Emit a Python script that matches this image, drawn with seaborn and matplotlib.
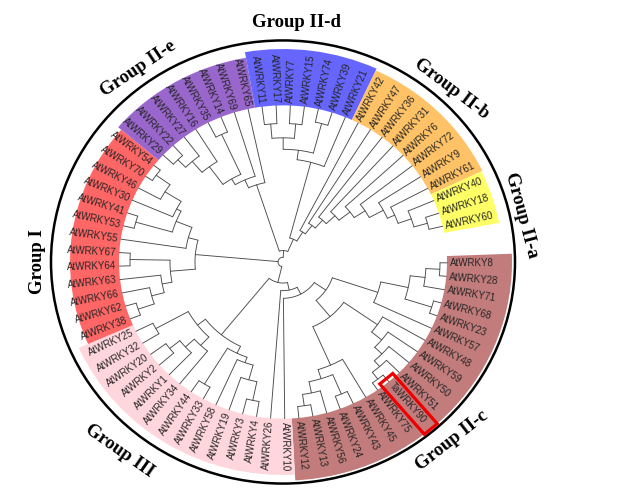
import re
import numpy as np
import pandas as pd
import matplotlib
matplotlib.use("Agg")
import matplotlib.pyplot as plt
from matplotlib.patches import Wedge, Circle, Polygon
import seaborn as sns

# ---- data ---------------------------------------------------------------
# clades in clockwise leaf order; internal labels = node radius (tips sit at R_TIP)
C_UP = "((((AtWRKY8,AtWRKY28)157,AtWRKY71)143,(AtWRKY68,AtWRKY23)156)128,AtWRKY57)100"
C_MID = "(AtWRKY48,(AtWRKY59,(AtWRKY50,(AtWRKY51,(TaWRKY90,AtWRKY75)155)146)138)128)115"
C_LOW = "(AtWRKY45,((AtWRKY43,AtWRKY24)150,(AtWRKY56,(AtWRKY13,AtWRKY12)152)140)128)118"
GIII_A = "((((AtWRKY4,AtWRKY3)148,AtWRKY19)128,AtWRKY58)112,(AtWRKY33,AtWRKY44)150)106"
GIII_B = "((AtWRKY34,(AtWRKY1,(AtWRKY2,AtWRKY20)145)132)120,(AtWRKY32,AtWRKY25)145)108"
GI_LOW = "((((AtWRKY38,AtWRKY62)153,AtWRKY66)136,AtWRKY63)123,(AtWRKY64,AtWRKY67)153)113"
GI_UP = "(AtWRKY55,((AtWRKY53,AtWRKY41)153,(AtWRKY30,(AtWRKY46,(AtWRKY70,AtWRKY54)156)139)120)115)98"
IIE = "((((((AtWRKY29,AtWRKY22)150,AtWRKY27)139,AtWRKY16)124,(AtWRKY35,AtWRKY14)147)101,AtWRKY69)94,AtWRKY65)85"
IID = "((((AtWRKY11,AtWRKY17)145,(AtWRKY7,AtWRKY15)145)130,(AtWRKY74,AtWRKY39)150)118,AtWRKY21)108"
IIAB = ("(AtWRKY42,(AtWRKY47,(AtWRKY36,(AtWRKY31,(AtWRKY6,(AtWRKY72,(AtWRKY9,(AtWRKY61,"
        "(AtWRKY40,(AtWRKY18,AtWRKY60)150)136)122)114)98)85)71)59)48)37")

IIC = "(" + C_UP + ",(" + C_MID + "," + C_LOW + ")74)52"
GIII = "(" + GIII_A + "," + GIII_B + ")98"
LOWER = "(((" + IIC + ",AtWRKY10)38,AtWRKY26)30," + GIII + ")22"
GI = "(" + GI_LOW + "," + GI_UP + ")88"
UPPER = "(" + IIE + ",(" + IID + "," + IIAB + ")26)12"
TREE = "(" + LOWER + "," + GI + "," + UPPER + ")5"

GROUPS = ["Group II-c", "Group III", "Group I", "Group II-e", "Group II-d", "Group II-b", "Group II-a"]
GROUP_SIZES = [18, 14, 13, 8, 7, 8, 3]
GROUP_COLORS = ["#c27c7c", "#ffd6dc", "#ff6666", "#9966cc", "#6666ff", "#ffc266", "#ffff66"]
HIGHLIGHT = "TaWRKY90"

# ---- layout ---------------------------------------------------------------
W, H = 628, 504
CX, CY = 283, 262          # centre in pixels
SQ = 0.955                 # vertical squash of the original picture
R_TIP = 164
R_RING = 232
THETA0, STEP = -0.3, 4.95
BAND_OUTER = [229, 223, 213, 217, 223, 221, 220]
LABEL_ANGLE = [-48, -129.6, 180, 125.5, 87, 47, 11.6]
LABEL_RADIUS = [252, 256, 246, 249, 251, 248, 244]
LABEL_ROT = [38, -35, 90, 34, 0, -37, -75]


def parse(s):
    pos = 0

    def node():
        nonlocal pos
        if s[pos] == "(":
            pos += 1
            kids = [node()]
            while s[pos] == ",":
                pos += 1
                kids.append(node())
            pos += 1
            m = re.match(r"[\d.]+", s[pos:])
            pos += m.end()
            return {"r": float(m.group()), "kids": kids}
        m = re.match(r"[A-Za-z0-9]+", s[pos:])
        pos += m.end()
        return {"name": m.group(), "r": R_TIP, "kids": []}

    return node()


root = parse(TREE)
leaves = []


def place(n):
    if not n["kids"]:
        n["theta"] = THETA0 - STEP * len(leaves)
        leaves.append(n)
        return
    for k in n["kids"]:
        place(k)
    n["theta"] = (n["kids"][0]["theta"] + n["kids"][-1]["theta"]) / 2


place(root)

rows = []
seg = 0


def add_edges(n):
    global seg
    if not n["kids"]:
        return
    t1, t2 = n["kids"][0]["theta"], n["kids"][-1]["theta"]
    ts = np.radians(np.linspace(t1, t2, max(2, int(abs(t1 - t2)) + 2)))
    for t in ts:
        rows.append((seg, n["r"] * np.cos(t), n["r"] * np.sin(t)))
    seg += 1
    for k in n["kids"]:
        t = np.radians(k["theta"])
        for r in (n["r"], k["r"]):
            rows.append((seg, r * np.cos(t), r * np.sin(t)))
        seg += 1
        add_edges(k)


add_edges(root)
edges = pd.DataFrame(rows, columns=["seg", "x", "y"])

sns.set_theme(style="white")
plt.rcParams["font.family"] = ["Liberation Sans", "DejaVu Sans"]

fig = plt.figure(figsize=(W / 100, H / 100), dpi=100)
ax = fig.add_axes([0, 0, 1, 1])

# coloured label bands
start = 0
for size, col, outer in zip(GROUP_SIZES, GROUP_COLORS, BAND_OUTER):
    a = leaves[start]["theta"] + STEP / 2
    b = leaves[start + size - 1]["theta"] - STEP / 2
    ax.add_patch(Wedge((0, 0), outer, b, a, width=outer - R_TIP,
                       facecolor=col, edgecolor="none", zorder=0))
    start += size

sns.lineplot(data=edges, x="x", y="y", units="seg", estimator=None, sort=False,
             color="#4a4a4a", linewidth=0.65, ax=ax, legend=False)

# leaf labels
for lf in leaves:
    t = np.radians(lf["theta"])
    phi = np.degrees(np.arctan2(SQ * np.sin(t), np.cos(t)))
    r = R_TIP + 3
    if np.cos(t) >= 0:
        rot, ha = phi, "left"
    else:
        rot, ha = phi + 180, "right"
    ax.text(r * np.cos(t), r * np.sin(t), lf["name"], rotation=rot, ha=ha, va="center",
            rotation_mode="anchor", fontsize=7, color="#262626", zorder=3)

# red box around the wheat gene
hl = [lf for lf in leaves if lf["name"] == HIGHLIGHT][0]
t = np.radians(hl["theta"])
u = np.array([np.cos(t), np.sin(t)])
nrm = np.array([-np.sin(t), np.cos(t)])
w = 8.5
corners = [160 * u + w * nrm, 229 * u + w * nrm, 229 * u - w * nrm, 160 * u - w * nrm]
ax.add_patch(Polygon(corners, closed=True, fill=False, edgecolor="#ee0000", linewidth=2.3, zorder=5))

# outer ring
ax.add_patch(Circle((0, 0), R_RING, fill=False, edgecolor="black", linewidth=1.8, zorder=4))

# group names
for name, ang, rad, rot in zip(GROUPS, LABEL_ANGLE, LABEL_RADIUS, LABEL_ROT):
    t = np.radians(ang)
    ax.text(rad * np.cos(t), rad * np.sin(t), name, rotation=rot, ha="center", va="center",
            rotation_mode="anchor", fontsize=13.5, fontweight="bold",
            family=["Liberation Serif", "DejaVu Serif"], color="black")

ax.set_xlim(-CX, W - CX)
ax.set_ylim(-(H - CY) / SQ, CY / SQ)
ax.axis("off")

fig.savefig("out.png", dpi=100)
plt.close(fig)
